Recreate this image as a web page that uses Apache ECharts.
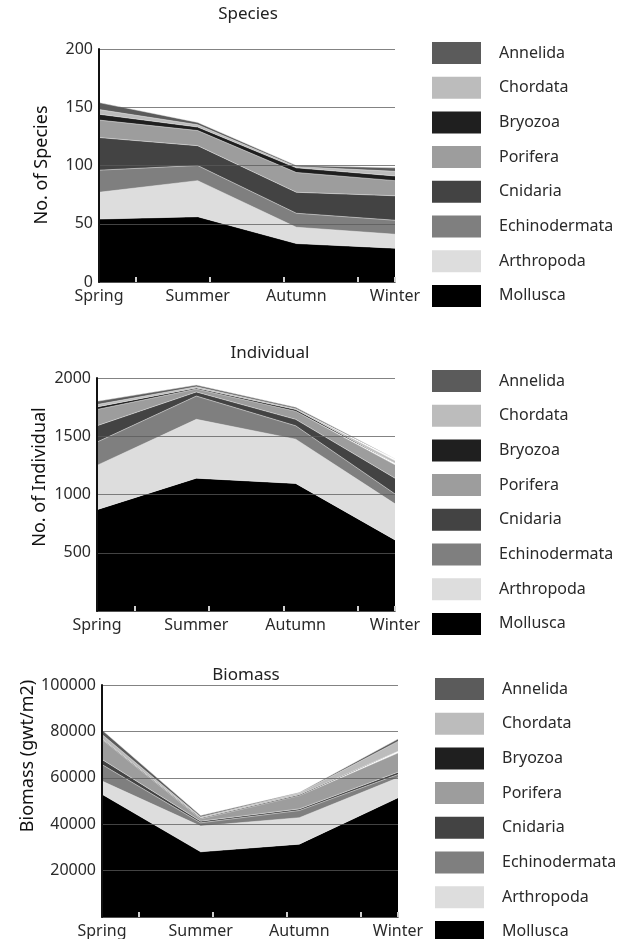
<!DOCTYPE html>
<html>
<head>
<meta charset="utf-8">
<title>Species / Individual / Biomass</title>
<script src="https://cdn.jsdelivr.net/npm/echarts@6/dist/echarts.min.js"></script>
<style>
  html, body { margin: 0; padding: 0; background: #fff; }
  #main { width: 632px; height: 939px; }
</style>
</head>
<body>
<div id="main"></div>
<script>
// 季节
const seasons = ['Spring', 'Summer', 'Autumn', 'Winter'];
// 门类（自下而上堆叠顺序）
const taxa = ['Mollusca', 'Arthropoda', 'Echinodermata', 'Cnidaria', 'Porifera', 'Bryozoa', 'Chordata', 'Annelida'];

// Species
const spMollusca = [54, 56, 33, 29];
const spArthropoda = [23, 31, 14, 12];
const spEchinodermata = [19, 13, 12, 12];
const spCnidaria = [28, 17, 18, 21];
const spPorifera = [15, 13, 17, 13];
const spBryozoa = [5, 3, 4, 4];
const spChordata = [4, 2, 1, 4];
const spAnnelida = [6, 2, 1, 3];

// Individual
const inMollusca = [870, 1140, 1095, 610];
const inArthropoda = [380, 505, 380, 310];
const inEchinodermata = [200, 200, 115, 85];
const inCnidaria = [140, 35, 55, 135];
const inPorifera = [140, 25, 70, 115];
const inBryozoa = [22, 9, 14, 14];
const inChordata = [20, 11, 8, 20];
const inAnnelida = [28, 14, 11, 17];

// Biomass (gwt/m2)
const bmMollusca = [52900, 28100, 31400, 51400];
const bmArthropoda = [5700, 11100, 11400, 8600];
const bmEchinodermata = [7100, 1400, 3100, 1400];
const bmCnidaria = [2200, 700, 700, 1000];
const bmPorifera = [8600, 1000, 5700, 8300];
const bmBryozoa = [300, 400, 400, 700];
const bmChordata = [1900, 400, 700, 4300];
const bmAnnelida = [1900, 600, 300, 1000];

// 灰度配色
const colors = {
  Mollusca: '#000000',
  Arthropoda: '#dddddd',
  Echinodermata: '#7f7f7f',
  Cnidaria: '#434343',
  Porifera: '#9d9d9d',
  Bryozoa: '#1f1f1f',
  Chordata: '#bcbcbc',
  Annelida: '#5b5b5b'
};

const FONT = 'Noto Sans';

const charts = [
  {
    title: 'Species', yName: 'No. of Species', max: 200, interval: 50, showZero: true,
    grid: { left: 99, top: 49, width: 296, height: 233 },
    titlePos: [248, 6], namePos: [42, 165], legendPos: [432, 42],
    data: [spMollusca, spArthropoda, spEchinodermata, spCnidaria, spPorifera, spBryozoa, spChordata, spAnnelida]
  },
  {
    title: 'Individual', yName: 'No. of Individual', max: 2000, interval: 500, showZero: false,
    grid: { left: 97, top: 378, width: 298, height: 233 },
    titlePos: [270, 345], namePos: [40, 477], legendPos: [432, 370],
    data: [inMollusca, inArthropoda, inEchinodermata, inCnidaria, inPorifera, inBryozoa, inChordata, inAnnelida]
  },
  {
    title: 'Biomass', yName: 'Biomass (gwt/m2)', max: 100000, interval: 20000, showZero: false,
    grid: { left: 102, top: 685, width: 296, height: 232 },
    titlePos: [246, 667], namePos: [28, 756], legendPos: [435, 678],
    data: [bmMollusca, bmArthropoda, bmEchinodermata, bmCnidaria, bmPorifera, bmBryozoa, bmChordata, bmAnnelida]
  }
];

const grids = [], xAxes = [], yAxes = [], series = [], legends = [], titles = [], graphics = [];

charts.forEach((c, i) => {
  grids.push(c.grid);

  titles.push({
    text: c.title,
    left: c.titlePos[0],
    top: c.titlePos[1],
    textAlign: 'center',
    padding: 0,
    textStyle: { fontFamily: FONT, fontSize: 17, fontWeight: 'normal', color: '#222' }
  });

  // 分类轴
  xAxes.push({
    type: 'category',
    gridIndex: i,
    data: seasons,
    boundaryGap: false,
    axisLine: { show: true, lineStyle: { color: '#000', width: 1.5 } },
    axisTick: { show: false },
    axisLabel: { margin: 6, fontFamily: FONT, fontSize: 16, color: '#2a2a2a' },
    splitLine: { show: false }
  });

  yAxes.push({
    type: 'value',
    gridIndex: i,
    min: 0,
    max: c.max,
    interval: c.interval,
    z: 5,
    axisLine: { show: true, lineStyle: { color: '#111', width: 2 } },
    axisTick: { show: false },
    axisLabel: {
      margin: 6, fontFamily: FONT, fontSize: 16, color: '#2a2a2a',
      formatter: v => (v === 0 && !c.showZero) ? '' : String(v)
    },
    splitLine: { show: true, lineStyle: { color: 'rgba(90,90,90,0.75)', width: 1 } }
  });

  // 纵轴标题
  graphics.push({
    type: 'text',
    x: c.namePos[0],
    y: c.namePos[1],
    rotation: Math.PI / 2,
    style: {
      text: c.yName,
      font: '18px "' + FONT + '"',
      fill: '#111',
      textAlign: 'center',
      textVerticalAlign: 'middle'
    }
  });

  legends.push({
    orient: 'vertical',
    left: c.legendPos[0],
    top: c.legendPos[1],
    height: 320,
    padding: 0,
    itemWidth: 49,
    itemHeight: 22,
    itemGap: 12.7,
    icon: 'rect',
    selectedMode: false,
    data: taxa.slice().reverse(),
    textStyle: { fontFamily: FONT, fontSize: 16, color: '#2a2a2a', padding: [0, 0, 0, 13] }
  });

  taxa.forEach((name, k) => {
    series.push({
      name: name,
      type: 'line',
      stack: 'stack' + i,
      xAxisIndex: i,
      yAxisIndex: i,
      symbol: 'none',
      color: colors[name],
      lineStyle: { width: 0.7, color: 'rgba(235,235,235,0.7)' },
      areaStyle: { color: colors[name], opacity: 1 },
      emphasis: { disabled: true },
      data: c.data[k]
    });
  });
});

// 类目之间的小刻度：每个季节拆成两半，只在相邻季节的中点画刻度
charts.forEach((c, i) => {
  xAxes.push({
    type: 'category',
    gridIndex: i,
    data: seasons.flatMap(s => [s, s]),
    boundaryGap: true,
    position: 'bottom',
    z: 6,
    axisLine: { show: false },
    axisLabel: { show: false },
    axisTick: {
      show: true,
      inside: true,
      length: 5,
      interval: idx => idx % 2 === 1,
      lineStyle: { color: '#d0d0d0', width: 2 }
    },
    splitLine: { show: false }
  });
});

const myChart = echarts.init(document.getElementById('main'));
myChart.setOption({
  backgroundColor: '#fff',
  animation: false,
  title: titles,
  grid: grids,
  xAxis: xAxes,
  yAxis: yAxes,
  legend: legends,
  graphic: graphics,
  series: series
});
</script>
</body>
</html>
